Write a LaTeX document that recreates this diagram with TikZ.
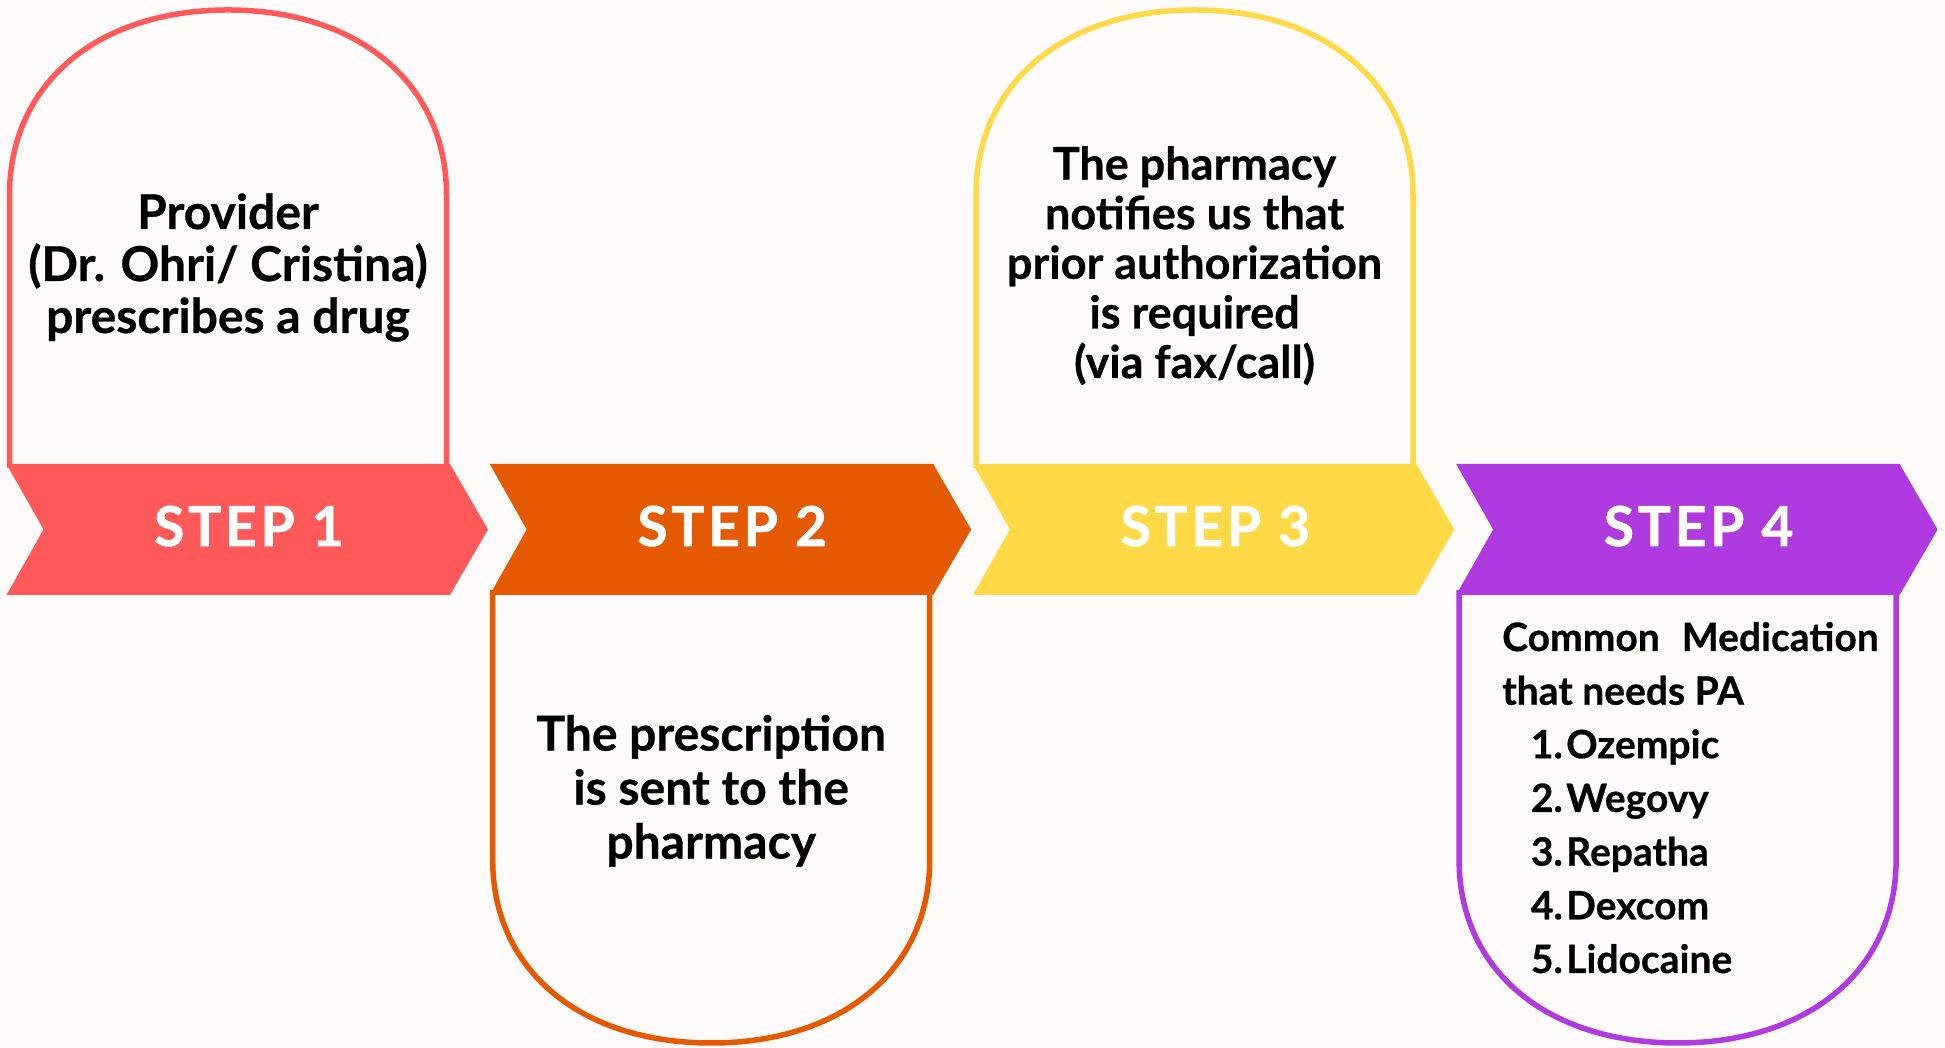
\documentclass[tikz,border=0pt]{standalone}
\usepackage{fontspec}
\setmainfont{Lato}[BoldFeatures={FakeBold=0.6}]
\newfontfamily\stepfont{Lato}[LetterSpace=7, BoldFeatures={FakeBold=1.2}]
\definecolor{bg}{RGB}{255,251,250}
\definecolor{cred}{RGB}{255,89,89}
\definecolor{corange}{RGB}{229,90,0}
\definecolor{cyellow}{RGB}{255,217,70}
\definecolor{cpurple}{RGB}{175,58,224}
\begin{document}
\begin{tikzpicture}[x=1pt,y=1pt,
  boxline/.style={line width=5.5pt, fill=bg, line join=miter},
  steplabel/.style={text=white, anchor=base, inner sep=0pt, font=\stepfont\bfseries\fontsize{55}{55}\selectfont},
  bodytext/.style={text=black, anchor=base, align=center, inner sep=0pt},
  listtext/.style={text=black, anchor=base west, align=left, inner sep=0pt, font=\bfseries\fontsize{39}{53.7}\selectfont}]
\fill[bg] (0,0) rectangle (1945,1048);
\useasboundingbox (0,0) rectangle (1945,1048);

% boxes (arched)
\draw[boxline, draw=cred] (9.5,580) -- (9.5,853)
  .. controls (9.5,964) and (97,1038) .. (228,1038)
  .. controls (359,1038) and (446.5,964) .. (446.5,853) -- (446.5,580);
\draw[boxline, draw=corange] (492.7,458) -- (492.7,188)
  .. controls (492.7,78) and (580.2,5) .. (711.2,5)
  .. controls (842.2,5) and (929.7,78) .. (929.7,188) -- (929.7,458);
\draw[boxline, draw=cyellow] (976,580) -- (976,853)
  .. controls (976,964) and (1063.5,1038) .. (1194.5,1038)
  .. controls (1325.5,1038) and (1413,964) .. (1413,853) -- (1413,580);
\draw[boxline, draw=cpurple] (1459.1,458) -- (1459.1,188)
  .. controls (1459.1,78) and (1546.6,5) .. (1677.6,5)
  .. controls (1808.6,5) and (1896.1,78) .. (1896.1,188) -- (1896.1,458);

% bands
\fill[cred] (6.5,584) -- (450,584) -- (488,518.5) -- (450,453) -- (6.5,453) -- (43.5,518.5) -- cycle;
\fill[corange] (489.7,584) -- (933.2,584) -- (971.2,518.5) -- (933.2,453) -- (489.7,453) -- (526.7,518.5) -- cycle;
\fill[cyellow] (972.9,584) -- (1416.4,584) -- (1454.4,518.5) -- (1416.4,453) -- (972.9,453) -- (1009.9,518.5) -- cycle;
\fill[cpurple] (1456.1,584) -- (1899.6,584) -- (1937.6,518.5) -- (1899.6,453) -- (1456.1,453) -- (1493.1,518.5) -- cycle;

\node[steplabel] (s1) at (249,502) {STEP 1};
\node[steplabel] (s2) at (732.2,502) {STEP 2};
\node[steplabel] (s3) at (1215.4,502) {STEP 3};
\node[steplabel] (s4) at (1698.6,502) {STEP 4};

\node[bodytext, font=\bfseries\fontsize{48}{52}\selectfont] (t1) at (228,715)
  {Provider\\(Dr. Ohri/ Cristina)\\prescribes a drug};
\node[bodytext, font=\bfseries\fontsize{48}{54}\selectfont] (t2) at (711.2,189.4)
  {The prescription\\is sent to the\\pharmacy};
\node[bodytext, font=\bfseries\fontsize{45}{49.6}\selectfont] (t3) at (1194.5,670)
  {The pharmacy\\notifies us that\\prior authorization\\is required\\(via fax/call)};
\node[listtext] (t4) at (1502,343.3)
  {Common\hspace{22pt}Medication\\that needs PA};
\node[listtext] (t5) at (1530.7,75)
  {\makebox[35.3pt][l]{1.}Ozempic\\\makebox[35.3pt][l]{2.}Wegovy\\\makebox[35.3pt][l]{3.}Repatha\\\makebox[35.3pt][l]{4.}Dexcom\\\makebox[35.3pt][l]{5.}Lidocaine};
\end{tikzpicture}
\end{document}
